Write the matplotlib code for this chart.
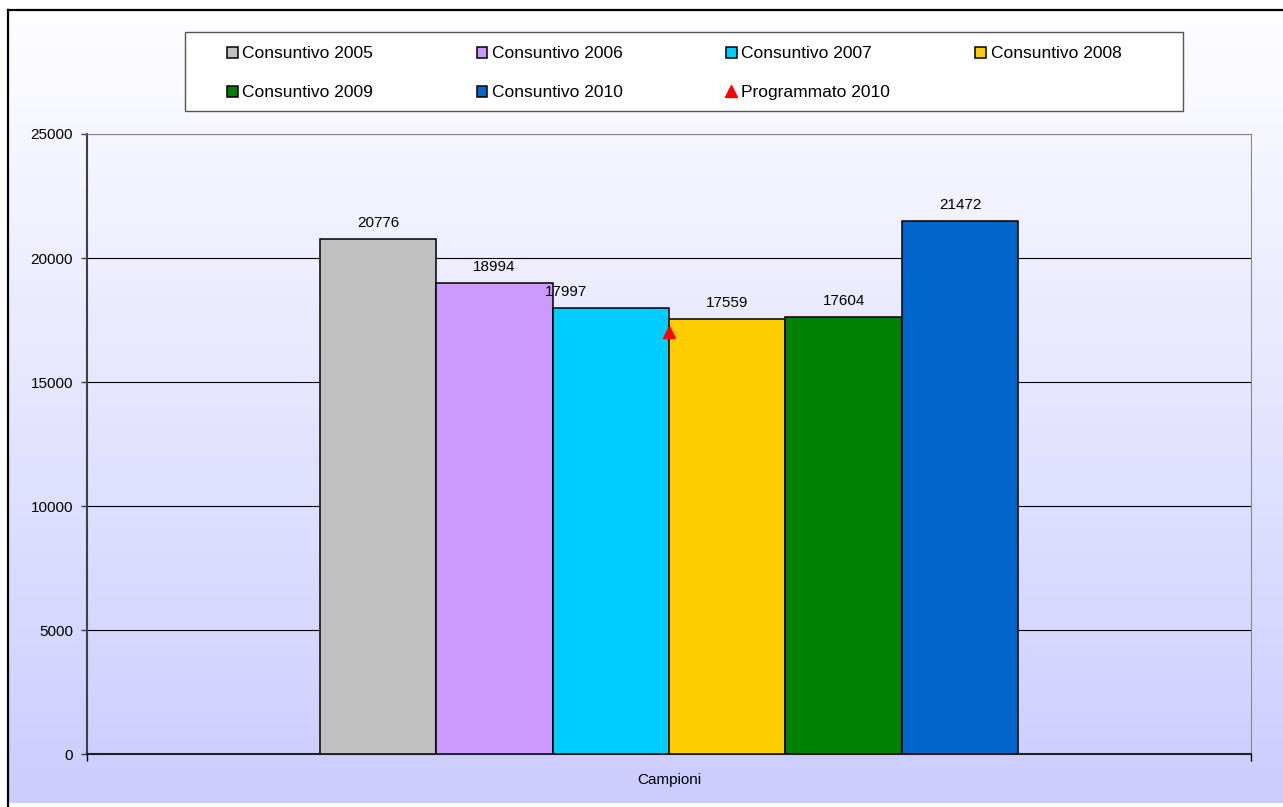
import numpy as np
import matplotlib.pyplot as plt
from matplotlib.patches import Rectangle
from matplotlib.lines import Line2D

plt.rcParams['font.family'] = ['Liberation Sans', 'DejaVu Sans']

# data
series = ['Consuntivo 2005', 'Consuntivo 2006', 'Consuntivo 2007',
          'Consuntivo 2008', 'Consuntivo 2009', 'Consuntivo 2010']
values = [20776, 18994, 17997, 17559, 17604, 21472]
colors = ['#C0C0C0', '#CC99FF', '#00CCFF', '#FFCC00', '#008000', '#0066CC']
target_label = 'Programmato 2010'
target_value = 17000
category = 'Campioni'

W, H = 1283, 807
fig = plt.figure(figsize=(W / 100., H / 100.), dpi=100)
fig.patch.set_facecolor('white')

# gradient background of the chart area
bg = fig.add_axes([9. / W, 4. / H, 1 - 9. / W, (803 - 11.) / H], zorder=0)
top = np.array([254, 254, 255]) / 255.
bot = np.array([204, 204, 255]) / 255.
t = np.linspace(0, 1, 256)[:, None]
grad = (top[None, :] * (1 - t) + bot[None, :] * t)[:, None, :]
bg.imshow(grad, aspect='auto', extent=[0, 1, 0, 1])
bg.axis('off')

# border
fig.add_artist(Line2D([8. / W, 8. / W], [0, 1 - 10. / H], color='black', lw=1.6,
                      transform=fig.transFigure))
fig.add_artist(Line2D([8. / W, 1], [1 - 10. / H, 1 - 10. / H], color='black', lw=1.6,
                      transform=fig.transFigure))

ax = fig.add_axes([87. / W, 1 - 754. / H, (1251 - 87.) / W, (754 - 134.) / H], zorder=2)
ax.patch.set_alpha(0)

n = len(values)
width = 0.1
xs = -0.3 + width / 2 + width * np.arange(n)
bars = []
for i in range(n):
    b = ax.bar(xs[i], values[i], width, color=colors[i], edgecolor='black', lw=1.1,
               label=series[i], zorder=3)
    bars.append(b)

label_shift = {'Consuntivo 2007': -45}
for i in range(n):
    ax.annotate(str(values[i]), (xs[i], values[i]),
                xytext=(label_shift.get(series[i], 0), 16), textcoords='offset pixels',
                ha='center', va='center', fontsize=11, zorder=5)

tri, = ax.plot([0], [target_value], '^', color='red', ms=9, mec='red',
               label=target_label, zorder=6, clip_on=False)

ax.set_xlim(-0.5, 0.5)
ax.set_ylim(0, 25000)
ax.set_yticks(np.arange(0, 25001, 5000))
ax.yaxis.grid(True, color='black', lw=0.8, zorder=1)
ax.set_axisbelow(True)
ax.tick_params(axis='y', length=4, width=1, color='#404040', pad=6, labelsize=11)
ax.set_xticks([0])
ax.set_xticklabels([category])
ax.set_xticks([-0.5, 0.5], minor=True)
ax.tick_params(axis='x', which='major', length=0, pad=13.5, labelsize=11)
ax.tick_params(axis='x', which='minor', length=5, width=1, color='black')

ax.spines['left'].set_color('#404040')
ax.spines['left'].set_linewidth(1.5)
ax.spines['bottom'].set_color('#202020')
ax.spines['bottom'].set_linewidth(1.5)
ax.spines['top'].set_color('#888888')
ax.spines['right'].set_color('#888888')

# legend box, entries laid out row-wise in 4 equal columns like the original
fig.add_artist(Rectangle((185. / W, 1 - 111. / H), 998. / W, 79. / H,
                         transform=fig.transFigure, facecolor='white',
                         edgecolor='#555555', lw=1, zorder=9))
handles = [b[0] for b in bars] + [tri]
labels = series + [target_label]
ncol = 4
for c in range(ncol):
    idx = list(range(c, len(labels), ncol))
    leg = fig.legend([handles[k] for k in idx], [labels[k] for k in idx],
                     loc='upper left', bbox_to_anchor=((227 + 249.5 * c) / W, 1 - 46.5 / H),
                     fontsize=12.5, frameon=False,
                     handlelength=0.62, handleheight=0.62, handletextpad=0.25,
                     labelspacing=1.37, borderpad=0, borderaxespad=0)
    leg.set_zorder(10)

plt.savefig('out.png', dpi=100)
